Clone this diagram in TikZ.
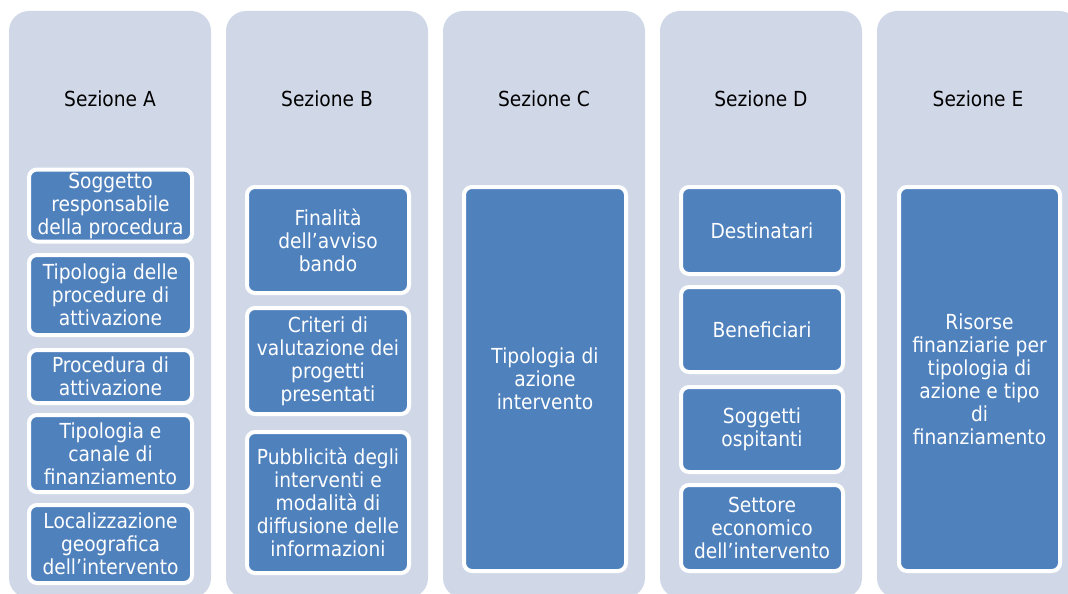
\documentclass[tikz,border=0pt]{standalone}
\usepackage{fontspec}
\setmainfont{DejaVu Sans}[FakeStretch=0.9]
\definecolor{colbg}{HTML}{D0D8E8}
\definecolor{boxblue}{HTML}{4F81BD}
\tikzset{
  column/.style={fill=colbg, draw=none, rounded corners=20pt},
  title/.style={text=black, font=\fontsize{20.7pt}{23pt}\selectfont, inner sep=0pt},
  item/.style={fill=boxblue, draw=white, line width=4pt, rounded corners=8pt,
    text=white, align=center, inner sep=0pt, minimum width=163pt,
    font=\fontsize{20.7pt}{23pt}\selectfont},
}
\begin{document}
\begin{tikzpicture}[x=1pt,y=-1pt]
\useasboundingbox (0,0) rectangle (1068,594);
\clip (0,0) rectangle (1068,594);
% columns
\foreach \i/\n in {0/A,1/B,2/C,3/D,4/E}{
  \path[column] ({9+217*\i},11) rectangle ({211+217*\i},598);
}
% titles
\node[title] (tA) at (110,99) {Sezione A};
\node[title] (tB) at (327,99) {Sezione B};
\node[title] (tC) at (544,99) {Sezione C};
\node[title] (tD) at (761,99) {Sezione D};
\node[title] (tE) at (978,99) {Sezione E};
% Section A
\node[item, minimum height=72pt] (a1) at (110.5,205.5) {Soggetto\\responsabile\\della procedura};
\node[item, minimum height=80pt] (a2) at (110.5,295) {Tipologia delle\\procedure di\\attivazione};
\node[item, minimum height=53pt] (a3) at (110.5,376.5) {Procedura di\\attivazione};
\node[item, minimum height=77pt] (a4) at (110.5,453.5) {Tipologia e\\canale di\\finanziamento};
\node[item, minimum height=78pt] (a5) at (110.5,544) {Localizzazione\\geografica\\dell’intervento};
% Section B
\node[item, minimum width=162pt, minimum height=106pt] (b1) at (328,240) {Finalità\\dell’avviso\\bando};
\node[item, minimum width=162pt, minimum height=106pt] (b2) at (328,361) {Criteri di\\valutazione dei\\progetti\\presentati};
\node[item, minimum width=162pt, minimum height=141pt] (b3) at (328,502.5) {Pubblicità degli\\interventi e\\modalità di\\diffusione delle\\informazioni};
% Section C
\node[item, minimum width=162pt, minimum height=384pt] (c1) at (545,379) {Tipologia di\\azione\\intervento};
% Section D
\node[item, minimum width=162pt, minimum height=87pt] (d1) at (762,230.5) {Destinatari};
\node[item, minimum width=162pt, minimum height=85pt] (d2) at (762,329.5) {Beneficiari};
\node[item, minimum width=162pt, minimum height=85pt] (d3) at (762,429.5) {Soggetti\\ospitanti};
\node[item, minimum width=162pt, minimum height=86pt] (d4) at (762,528) {Settore\\economico\\dell’intervento};
% Section E
\node[item, minimum width=161pt, minimum height=384pt] (e1) at (979.5,379) {Risorse\\finanziarie per\\tipologia di\\azione e tipo\\di\\finanziamento};
\end{tikzpicture}
\end{document}
